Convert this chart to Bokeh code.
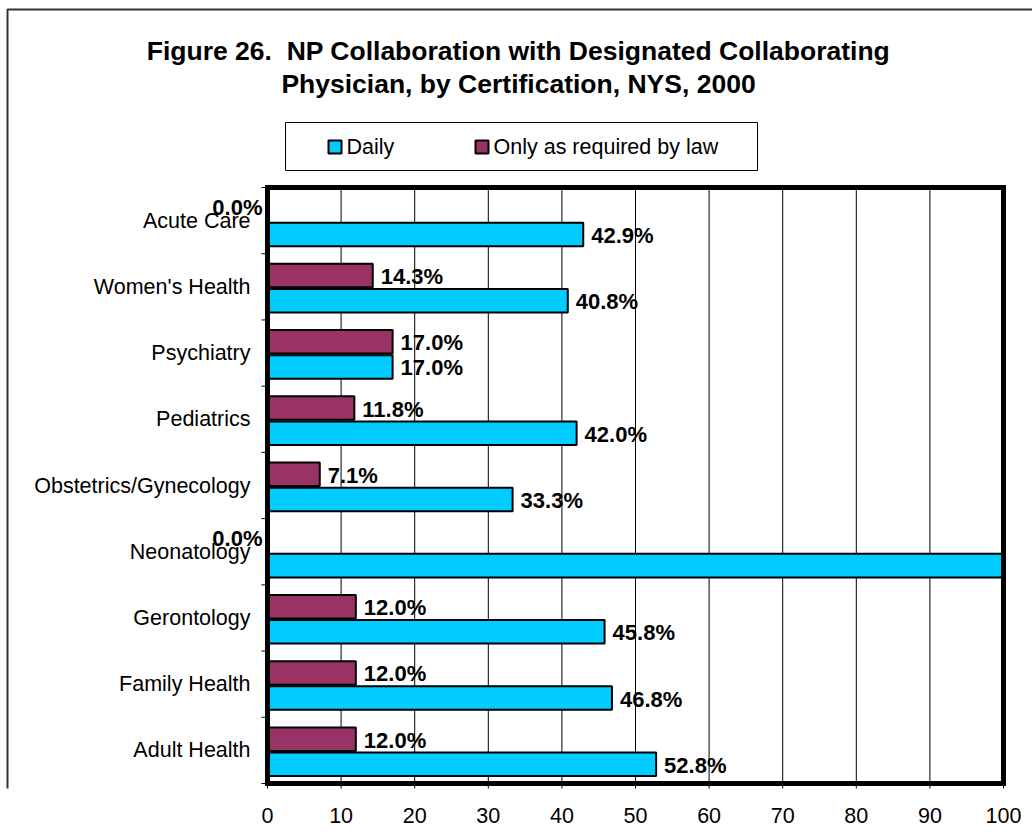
import math
from bokeh.plotting import figure
from bokeh.models import ColumnDataSource, FixedTicker, Label, BoxAnnotation, Range1d
from bokeh.core.properties import value
from bokeh.embed import file_html
from bokeh.resources import INLINE

# ---- data (bottom to top) ----
categories = ["Adult Health", "Family Health", "Gerontology", "Neonatology",
              "Obstetrics/Gynecology", "Pediatrics", "Psychiatry", "Women's Health", "Acute Care"]
daily = [52.8, 46.8, 45.8, 100.0, 33.3, 42.0, 17.0, 40.8, 42.9]
only_law = [12.0, 12.0, 12.0, 0.0, 7.1, 11.8, 17.0, 14.3, 0.0]
x_ticks = [0, 10, 20, 30, 40, 50, 60, 70, 80, 90, 100]
series_names = ["Daily", "Only as required by law"]
title_lines = ["Figure 26.\u00a0 NP Collaboration with Designated Collaborating",
               "Physician, by Certification, NYS, 2000"]

CYAN = "#00CCFF"
PURPLE = "#993366"
FONT = "Liberation Sans"

# ---- layout (canvas pixels) ----
W, H = 1032, 835
PA_L, PA_R, PA_T, PA_B = 267, 1003, 187, 783   # plot area
FR_B = 788                                      # frame bottom (a little below the plot area)
n = len(categories)
XMIN, XMAX = 0, 100
px_per_x = (PA_R - PA_L) / (XMAX - XMIN)
px_per_y = (PA_B - PA_T) / n
pa_lo = -0.5
pa_hi = n - 0.5
y_lo = pa_lo - (FR_B - PA_B) / px_per_y
y_hi = pa_lo + PA_B / px_per_y

p = figure(width=W, height=H, output_backend="svg", toolbar_location=None,
           x_range=Range1d(XMIN - PA_L / px_per_x, XMAX + (W - PA_R) / px_per_x),
           y_range=Range1d(y_lo, y_hi), y_axis_location=None,
           min_border_left=0, min_border_right=0, min_border_top=0, min_border_bottom=H - FR_B,
           background_fill_color="white", border_fill_color="white")
p.outline_line_color = None
p.xgrid.grid_line_color = None
p.ygrid.grid_line_color = None


def sx(cx):
    return cx


def sy(cy):
    return FR_B - cy


def screen_box(l, r, t, b, **kw):
    return BoxAnnotation(left=sx(l), right=sx(r), top=sy(t), bottom=sy(b),
                         left_units="screen", right_units="screen",
                         top_units="screen", bottom_units="screen", **kw)


# outer border of the chart object
p.add_layout(screen_box(7, 1200, 9, 1200, fill_alpha=0, line_color="#333333",
                        line_alpha=1, line_width=2, level="underlay"))

# vertical gridlines
p.segment(x0=x_ticks[1:-1], x1=x_ticks[1:-1], y0=pa_lo, y1=pa_hi,
          line_color="black", line_width=1)

OFF_LAW, OFF_DAILY = 0.17, -0.21
BH = 0.355
y_idx = list(range(n))
src = ColumnDataSource(dict(
    y_daily=[i + OFF_DAILY for i in y_idx], y_law=[i + OFF_LAW for i in y_idx],
    daily=daily, law=only_law))

p.hbar(y="y_law", left=0, right="law", height=BH, source=src,
       fill_color=PURPLE, line_color="black", line_width=2)
p.hbar(y="y_daily", left=0, right="daily", height=BH, source=src,
       fill_color=CYAN, line_color="black", line_width=2)

# plot-area border: four filled strips 5 px thick
mid_x = (XMIN + XMAX) / 2
mid_y = (pa_lo + pa_hi) / 2
p.rect(x=[mid_x, mid_x], y=[pa_lo, pa_hi], width=XMAX - XMIN, height=5,
       height_units="screen", fill_color="black", line_color=None)
p.rect(x=[XMIN, XMAX], y=[mid_y, mid_y], width=5, width_units="screen",
       height=pa_hi - pa_lo, fill_color="black", line_color=None)
p.rect(x=[XMIN, XMAX, XMIN, XMAX], y=[pa_lo, pa_lo, pa_hi, pa_hi], width=5, height=5,
       width_units="screen", height_units="screen", fill_color="black", line_color=None)

# category tick marks (at band boundaries, pointing left)
p.ray(x=[XMIN] * (n + 1), y=[i - 0.5 for i in range(n + 1)], length=6, length_units="screen",
      angle=math.pi, line_color="black", line_width=1)
# value-axis tick marks (pointing down)
p.ray(x=x_ticks, y=[pa_lo] * len(x_ticks), length=6, length_units="screen",
      angle=-math.pi / 2, line_color="black", line_width=1)

# category labels
p.text(x=[XMIN] * n, y=y_idx, text=categories, x_offset=-17,
       text_align="right", text_baseline="middle",
       text_font=value(FONT), text_font_size="21.5px", text_color="black")

# value labels
norm = dict(x=[], y=[], t=[])
zero = dict(x=[], y=[], t=[])
for i in y_idx:
    for v, yy in ((only_law[i], i + OFF_LAW), (daily[i], i + OFF_DAILY)):
        if v == 0:
            zero["x"].append(v); zero["y"].append(yy); zero["t"].append(f"{v:.1f}%")
        elif v < XMAX:
            norm["x"].append(v); norm["y"].append(yy); norm["t"].append(f"{v:.1f}%")

p.text(x="x", y="y", text="t", source=ColumnDataSource(norm), x_offset=8, y_offset=1,
       text_align="left", text_baseline="middle",
       text_font=value(FONT), text_font_size="22px", text_font_style="bold", text_color="black")
p.text(x="x", y="y", text="t", source=ColumnDataSource(zero), x_offset=-5, y_offset=-2,
       text_align="right", text_baseline="middle",
       text_font=value(FONT), text_font_size="22px", text_font_style="bold", text_color="black")

# x axis (labels only; ticks and line drawn above)
p.xaxis.ticker = FixedTicker(ticks=x_ticks)
p.xaxis.major_label_text_font = FONT
p.xaxis.major_label_text_font_size = "21.5px"
p.xaxis.major_label_text_color = "black"
p.xaxis.axis_line_color = None
p.xaxis.major_tick_out = 0
p.xaxis.major_tick_in = 0
p.xaxis.major_tick_line_color = None
p.xaxis.minor_tick_line_color = None
p.xaxis.major_label_standoff = 19

# title
for k, line in enumerate(title_lines):
    p.add_layout(Label(x=sx(518), y=sy(50 + 33 * k), x_units="screen", y_units="screen",
                       text=line, text_align="center", text_baseline="middle",
                       text_font=FONT, text_font_size="26.5px", text_font_style="bold",
                       text_color="black"))

# legend
p.add_layout(screen_box(285, 757, 122, 170, fill_color="white", fill_alpha=1,
                        line_color="black", line_alpha=1, line_width=1))
for sw_x, col, name in ((328, CYAN, series_names[0]), (475, PURPLE, series_names[1])):
    p.add_layout(screen_box(sw_x, sw_x + 13, 140, 153, fill_color=col, fill_alpha=1,
                            line_color="black", line_alpha=1, line_width=2))
    p.add_layout(Label(x=sx(sw_x + 18), y=sy(146), x_units="screen", y_units="screen",
                       text=name, text_align="left", text_baseline="middle",
                       text_font=FONT, text_font_size="21.5px", text_color="black"))

open("out.html", "w").write(file_html(p, INLINE))
